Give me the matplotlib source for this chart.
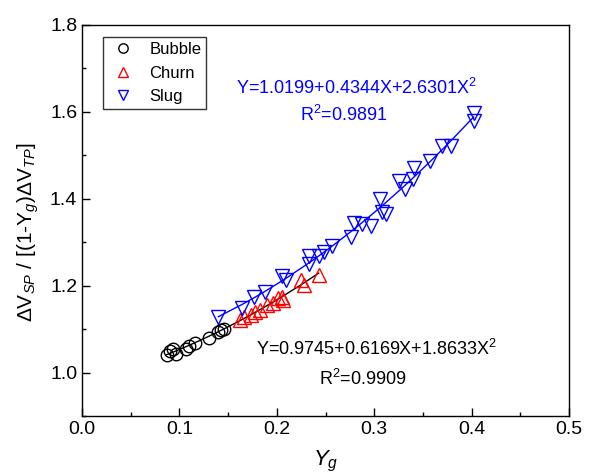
import numpy as np
import matplotlib
matplotlib.use("Agg")
import matplotlib.pyplot as plt
from matplotlib.ticker import MultipleLocator

plt.rcParams['font.family'] = ['Liberation Sans', 'DejaVu Sans']
plt.rcParams['mathtext.fontset'] = 'custom'
plt.rcParams['mathtext.rm'] = 'Liberation Sans'
plt.rcParams['mathtext.it'] = 'Liberation Sans:italic'
plt.rcParams['mathtext.bf'] = 'Liberation Sans:bold'

# Bubble flow
bubble_x = [0.087, 0.090, 0.093, 0.097, 0.107, 0.110, 0.116, 0.130, 0.140, 0.146, 0.143]
bubble_y = [1.040, 1.050, 1.055, 1.043, 1.055, 1.060, 1.068, 1.080, 1.093, 1.101, 1.098]

# Churn flow
churn_x = [0.162, 0.166, 0.173, 0.178, 0.183, 0.190, 0.196, 0.201, 0.205, 0.2065, 0.225, 0.228, 0.243]
churn_y = [1.122, 1.127, 1.133, 1.140, 1.145, 1.155, 1.160, 1.172, 1.175, 1.168, 1.214, 1.202, 1.225]

# Slug flow
slug_x = [0.140, 0.1645, 0.1765, 0.188, 0.2055, 0.209, 0.233, 0.233, 0.243, 0.248, 0.257,
          0.276, 0.279, 0.2876, 0.2968, 0.3057, 0.308, 0.3125, 0.325, 0.332, 0.340, 0.3412,
          0.3576, 0.3697, 0.379, 0.402, 0.402]
slug_y = [1.128, 1.149, 1.174, 1.185, 1.223, 1.212, 1.250, 1.269, 1.269, 1.277, 1.292,
          1.311, 1.345, 1.342, 1.338, 1.399, 1.370, 1.365, 1.441, 1.422, 1.446, 1.471,
          1.487, 1.522, 1.522, 1.598, 1.579]

eq_slug = "Y=1.0199+0.4344X+2.6301X$^2$"
r2_slug = "R$^2$=0.9891"
eq_bc = "Y=0.9745+0.6169X+1.8633X$^2$"
r2_bc = "R$^2$=0.9909"

fig = plt.figure(figsize=(5.96, 4.74), dpi=100)
ax = fig.add_axes([0.1376, 0.1224, 0.8171, 0.8249])

# fitted curves (least squares of the plotted data)
bc_x = np.array(bubble_x + churn_x)
bc_y = np.array(bubble_y + churn_y)
p_bc = np.polyfit(bc_x, bc_y, 2)
xs = np.sort(bc_x)
ax.plot(xs, np.polyval(p_bc, xs), color='black', lw=1.0, zorder=2)

sx = np.array(slug_x)
p_s = np.polyfit(sx, np.array(slug_y), 2)
xs2 = np.sort(sx)
ax.plot(xs2, np.polyval(p_s, xs2), color='blue', lw=1.0, zorder=2)

ax.plot(bubble_x, bubble_y, linestyle='none', marker='o', ms=9, mfc='none',
        mec='black', mew=1.0, label='Bubble', zorder=3)
ax.plot(churn_x, churn_y, linestyle='none', marker='^', ms=10, mfc='none',
        mec='red', mew=1.0, label='Churn', zorder=3)
ax.plot(slug_x, slug_y, linestyle='none', marker='v', ms=10, mfc='none',
        mec='blue', mew=1.0, label='Slug', zorder=3)

ax.set_xlim(0.0, 0.5)
ax.set_ylim(0.9, 1.8)
ax.xaxis.set_major_locator(MultipleLocator(0.1))
ax.xaxis.set_minor_locator(MultipleLocator(0.05))
ax.yaxis.set_major_locator(MultipleLocator(0.2))
ax.yaxis.set_minor_locator(MultipleLocator(0.1))
ax.xaxis.set_major_formatter(matplotlib.ticker.FormatStrFormatter('%.1f'))
ax.yaxis.set_major_formatter(matplotlib.ticker.FormatStrFormatter('%.1f'))
ax.tick_params(which='both', direction='in', labelsize=14, width=1.0)
ax.tick_params(which='major', length=6)
ax.tick_params(which='minor', length=3)
for s in ax.spines.values():
    s.set_linewidth(1.0)

ax.set_xlabel("$Y_g$", fontsize=16)
ax.xaxis.set_label_coords(0.5, -0.085, transform=ax.transAxes)
ax.set_ylabel(r"ΔV$_{SP}$ / [(1-Y$_g$)ΔV$_{TP}$]", fontsize=15)
ax.yaxis.set_label_coords(-0.084, 0.47, transform=ax.transAxes)

ax.text(0.158, 1.656, eq_slug, color='blue', fontsize=13, va='center', ha='left')
ax.text(0.224, 1.592, r2_slug, color='blue', fontsize=13, va='center', ha='left')
ax.text(0.179, 1.055, eq_bc, color='black', fontsize=13, va='center', ha='left')
ax.text(0.243, 0.986, r2_bc, color='black', fontsize=13, va='center', ha='left')

leg = ax.legend(loc='upper left', bbox_to_anchor=(0.025, 0.99), fontsize=12,
                markerscale=0.75, frameon=True, fancybox=False, edgecolor='black',
                handletextpad=0.7, borderpad=0.3, labelspacing=0.5, handlelength=1.8)
leg.get_frame().set_linewidth(1.0)

fig.savefig("out.png", dpi=100)
